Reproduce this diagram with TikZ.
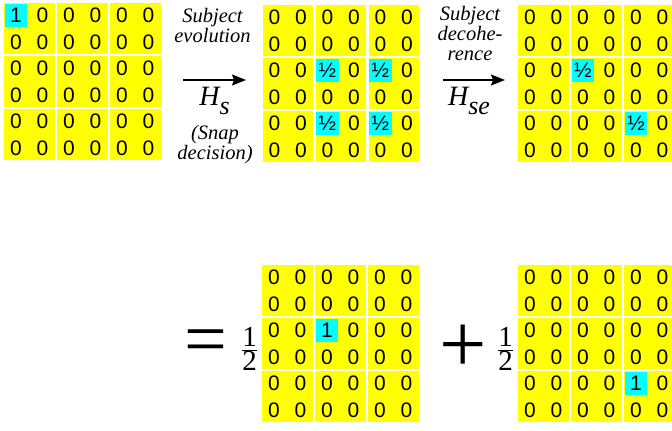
\documentclass[tikz,border=0pt]{standalone}
\usepackage{fontspec}
\usetikzlibrary{arrows.meta}
\newfontfamily\cellfont{Liberation Sans}
\newfontfamily\notefont{Liberation Serif}
\definecolor{cellyellow}{HTML}{FFFF00}
\definecolor{cellcyan}{HTML}{00FFFF}

% #1 name, (#2,#3) top left corner, #4 marked cells row/col/value
\newcommand\densitymatrix[4]{%
  \foreach \row/\col/\val in {#4} {\expandafter\xdef\csname mark#1-\row-\col\endcsname{\val}}
  \foreach \bi in {0,1,2} {
    \foreach \bj in {0,1,2} {
      \fill[cellyellow] (#2+53*\bj,#3+53*\bi) rectangle ++(50.5,50.5);
    }
  }
  \foreach \row in {0,...,5} {
    \foreach \col in {0,...,5} {
      \pgfmathsetmacro\cx{#2+53*floor(\col/2)+12+26.5*mod(\col,2)}
      \pgfmathsetmacro\cy{#3+53*floor(\row/2)+12.5+26.5*mod(\row,2)}
      \ifcsname mark#1-\row-\col\endcsname
        \node[markcell] (#1-\row-\col) at (\cx,\cy) {\csname mark#1-\row-\col\endcsname};
      \else
        \node[zerocell] (#1-\row-\col) at (\cx,\cy) {0};
      \fi
    }
  }
}
\newcommand\halfof{\fontsize{29}{29}\selectfont$\frac{\hbox{\notefont 1}}{\hbox{\notefont 2}}$}

\begin{document}
\begin{tikzpicture}[x=1pt,y=-1pt,
  zerocell/.style={inner sep=0pt, font=\cellfont\fontsize{21}{21}\selectfont},
  markcell/.style={zerocell, fill=cellcyan, minimum width=22.5pt, minimum height=22.5pt},
  note/.style={inner sep=0pt, align=center, anchor=north, font=\notefont\itshape\fontsize{20.5}{20}\selectfont},
  ham/.style={inner sep=0pt, anchor=base, font=\notefont\itshape\fontsize{28}{28}\selectfont},
  evolve/.style={line width=1.7pt, -{Stealth[length=14pt,width=11pt,inset=2pt]}},
  bigop/.style={inner sep=0pt, font=\notefont\fontsize{76}{76}\selectfont}]
  \useasboundingbox (0,0) rectangle (672,431);
  \clip (0,0) rectangle (672,431);

  % top row
  \densitymatrix{m1}{4}{3}{0/0/1}
  \densitymatrix{m2}{262.5}{5}{2/2/½,2/4/½,4/2/½,4/4/½}
  \densitymatrix{m3}{518}{5}{2/2/½,4/4/½}

  \node[note] (evo) at (212.5,8) {Subject\\evolution};
  \node[note] (snap) at (215,125) {(Snap\\decision)};
  \coordinate (hs-from) at (183,80);
  \coordinate (hs-to) at (246,80);
  \draw[evolve] (hs-from) -- (hs-to);
  \node[ham] (hs) at (214.5,105) {H\raisebox{-9pt}{\fontsize{26}{26}\selectfont s}};

  \node[note] (deco) at (470,6) {Subject\\decohe-\\rence};
  \coordinate (hse-from) at (442.5,80);
  \coordinate (hse-to) at (505,80);
  \draw[evolve] (hse-from) -- (hse-to);
  \node[ham] (hse) at (469,105) {H\raisebox{-9pt}{\fontsize{26}{26}\selectfont se}};

  % bottom row
  \node[bigop] (eq) at (206,347) {=};
  \node[inner sep=0pt] (half1) at (249.5,349) {\halfof};
  \densitymatrix{m4}{262}{265}{2/2/1}

  \node[bigop, font=\notefont\fontsize{84}{84}\selectfont] (plus) at (463,349) {+};
  \node[inner sep=0pt] (half2) at (505.5,349) {\halfof};
  \densitymatrix{m5}{518}{265}{4/4/1}
\end{tikzpicture}
\end{document}
